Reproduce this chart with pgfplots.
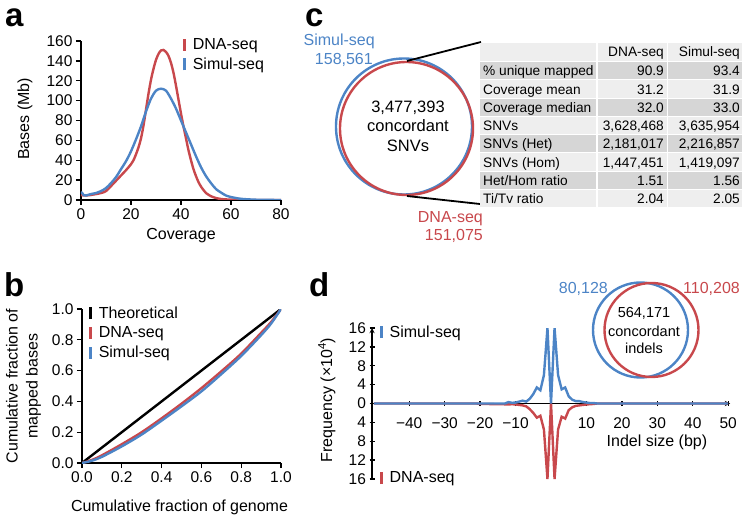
\documentclass[border=0pt]{standalone}
\usepackage{fontspec}
\setmainfont{Liberation Sans}
\usepackage{pgfplots}
\pgfplotsset{compat=1.18}
\definecolor{cred}{RGB}{200,72,76}
\definecolor{cblue}{RGB}{76,132,198}
\definecolor{tdark}{RGB}{214,214,214}
\definecolor{tlight}{RGB}{238,238,238}
\newcommand\ft{\fontsize{15.5}{18}\selectfont}
\newcommand\fl{\fontsize{16}{20}\selectfont}
\newcommand\fp{\fontsize{33}{33}\selectfont\bfseries}
\pgfplotsset{
  panel/.style={
    scale only axis, axis lines=left,
    axis line style={-, line width=1.3pt, black},
    tick align=outside, major tick length=5pt,
    tick style={line width=1.3pt, black},
    /pgf/number format/assume math mode=true,
    tick label style={font=\ft},
    label style={font=\fl},
    legend style={draw=none, fill=none, font=\fl, inner sep=0pt, row sep=3pt,
      anchor=north west, /tikz/every odd column/.append style={column sep=5pt}},
    legend cell align=left,
    legend image code/.code={\draw[##1, line width=2.6pt, line cap=butt] (0pt,-6pt) -- (0pt,6pt);},
    every axis plot/.append style={line width=2.4pt},
  }
}
\begin{document}
\begin{tikzpicture}[x=1pt,y=1pt]
\useasboundingbox (0,0) rectangle (750,-521);

% ---------------- panel a ----------------
\begin{axis}[panel, at={(81pt,-200pt)}, anchor=south west,
  width=200pt, height=159pt, xmin=0, xmax=80, ymin=0, ymax=160,
  xtick={0,20,...,80}, ytick={0,20,...,160},
  xlabel={Coverage}, ylabel={Bases (Mb)},
  xlabel style={at={(axis description cs:0.5,-0.226)}, anchor=center},
  ylabel style={at={(axis description cs:-0.28,0.51)}, anchor=center},
  legend style={at={(rel axis cs:0.51,1.03)}}]
\addplot[cred, smooth] coordinates {
(0,5) (2,4.5) (5,5.5) (8,7) (10,9) (12,14) (15,22) (18,30) (20,36) (21,40)
(22,46) (23,53) (24,62) (25,75) (26,91) (27,107) (28,121) (29,132) (30,141)
(31,147) (32,150.5) (33,151) (34,149) (35,145) (36,138) (37,128) (38,115)
(39,101) (40,87) (41,74) (42,62) (43,50) (44,40) (45,31) (46,24) (47,18)
(48,13.5) (49,10) (50,7) (52,3.8) (54,2) (56,1) (58,0.6) (62,0.2) (70,0) (80,0)};
\addlegendentry{DNA-seq}
\addplot[cblue, smooth] coordinates {
(0,8) (0.5,7) (1,5) (2,4.5) (4,6) (6,7) (8,9) (10,12) (12,17) (14,23) (16,31)
(18,39) (20,49) (22,61) (24,74) (26,89) (28,102) (30,110) (32,112) (34,110)
(36,102) (38,92) (40,80) (42,68) (44,56) (46,44) (48,33) (50,24) (52,17)
(54,11) (56,7.5) (58,4.5) (60,3) (63,1.5) (66,0.8) (70,0.3) (75,0.1) (80,0)};
\addlegendentry{Simul-seq}
\end{axis}

% ---------------- panel b ----------------
\begin{axis}[panel, at={(82pt,-463pt)}, anchor=south west,
  width=199pt, height=154pt, xmin=0, xmax=1, ymin=0, ymax=1,
  xtick={0,0.2,...,1}, ytick={0,0.2,...,1},
  xticklabel style={/pgf/number format/.cd, fixed, fixed zerofill, precision=1},
  yticklabel style={/pgf/number format/.cd, fixed, fixed zerofill, precision=1},
  xlabel={Cumulative fraction of genome},
  ylabel={Cumulative fraction of\\mapped bases},
  xlabel style={at={(axis description cs:0.49,-0.286)}, anchor=center},
  ylabel style={at={(axis description cs:-0.294,0.5)}, anchor=center, align=center},
  legend style={at={(rel axis cs:0.035,1.03)}}]
\addplot[black] coordinates {(0,0) (1,1)};
\addlegendentry{Theoretical}
\addplot[cred, smooth] coordinates {
(0,0) (0.05,0.02) (0.1,0.05) (0.2,0.122) (0.3,0.2) (0.4,0.29) (0.5,0.385)
(0.6,0.486) (0.7,0.595) (0.8,0.71) (0.9,0.845) (0.95,0.915) (1,1)};
\addlegendentry{DNA-seq}
\addplot[cblue, smooth] coordinates {
(0,0) (0.05,0.015) (0.1,0.04) (0.2,0.108) (0.3,0.185) (0.4,0.275) (0.5,0.368)
(0.6,0.465) (0.7,0.577) (0.8,0.695) (0.9,0.83) (0.95,0.905) (1,1)};
\addlegendentry{Simul-seq}
\end{axis}

% ---------------- panel d ----------------
\begin{axis}[panel, at={(372pt,-479pt)}, anchor=south west,
  width=358pt, height=151pt, xmin=-50.5, xmax=50.5, ymin=-16, ymax=16,
  axis x line=middle, axis y line=left,
  xtick={-40,-30,-20,-10,10,20,30,40,50},
  xticklabels={−40,−30,−20,−10,10,20,30,40,50},
  xticklabel style={yshift=-8pt},
  ytick={-16,-12,...,16}, yticklabels={16,12,8,4,0,4,8,12,16},
  xlabel={Indel size (bp)}, ylabel={Frequency (×10\textsuperscript{4})},
  xlabel style={at={(axis description cs:0.796,0.245)}, anchor=center, font=\fl},
  ylabel style={at={(axis description cs:-0.126,0.523)}, anchor=center, font=\fl},
  legend style={at={(rel axis cs:0.022,1.03)}, row sep=129pt}]
\addlegendimage{cblue}
\addlegendentry{Simul-seq}
\addlegendimage{cred}
\addlegendentry{DNA-seq}
\addplot[cred, forget plot] coordinates {
(-50,0) (-21,0) (-20,-0.1) (-18,-0.1) (-16,-0.15) (-14,-0.15) (-12,-0.2)
(-11,-0.15) (-10,-0.2) (-9,-0.3) (-8,-0.4) (-7,-0.6) (-6,-1.2) (-5,-2.0)
(-4,-3.0) (-3,-2.6) (-2,-5.5) (-1,-16) (0,0) (1,-16) (2,-5.5) (3,-2.8)
(4,-3.2) (5,-1.4) (6,-0.8) (7,-0.5) (8,-0.4) (9,-0.3) (10,-0.2) (11,-0.15)
(12,-0.1) (13,0) (50,0)};
\addplot[cblue, forget plot] coordinates {
(-50,0) (-13,0) (-12,0.3) (-11,0.15) (-10,0.2) (-9,0.4) (-8,0.6) (-7,0.4)
(-6,1.0) (-5,2.0) (-4,3.4) (-3,2.8) (-2,6) (-1,16) (0,0) (1,16) (2,6)
(3,3) (4,3.4) (5,1.5) (6,0.8) (7,0.5) (8,0.5) (9,0.3) (10,0.2) (11,0.1)
(12,0.1) (13,0) (50,0)};
\end{axis}

% ---------------- panel labels ----------------
\node[font=\fp, anchor=base west, inner sep=0] at (5,-27) {a};
\node[font=\fp, anchor=base west, inner sep=0] at (4,-297) {b};
\node[font=\fp, anchor=base west, inner sep=0] at (305,-27) {c};
\node[font=\fp, anchor=base west, inner sep=0] at (309,-297) {d};

% ---------------- panel c : Venn ----------------
\draw[cblue, line width=2.4pt] (404,-126.5) circle (68);
\draw[cred, line width=2.4pt] (406.5,-128.5) circle (66.5);
\draw[black, line width=1.8pt] (407,-61) -- (481,-42);
\draw[black, line width=1.8pt] (407,-196) -- (480,-204);
\node[font=\fontsize{16.5}{20}\selectfont, anchor=base, inner sep=0] at (408,-113) {3,477,393};
\node[font=\fontsize{16.5}{20}\selectfont, anchor=base, inner sep=0] at (408,-132) {concordant};
\node[font=\fontsize{16.5}{20}\selectfont, anchor=base, inner sep=0] at (408,-152) {SNVs};
\node[font=\fl, text=cblue, anchor=base east, inner sep=0] at (375,-45.5) {Simul-seq};
\node[font=\fl, text=cblue, anchor=base east, inner sep=0] at (373,-64.5) {158,561};
\node[font=\fl, text=cred, anchor=base east, inner sep=0] at (483,-222.5) {DNA-seq};
\node[font=\fl, text=cred, anchor=base east, inner sep=0] at (483,-240.5) {151,075};

% table
\fill[tlight] (480,-43) rectangle (596,-61.2);
\fill[tlight] (597.5,-43) rectangle (666.5,-61.2);
\fill[tlight] (668,-43) rectangle (742,-61.2);
\foreach \k in {1,...,8}{
  \pgfmathsetmacro{\yt}{62+18.3*(\k-1)}
  \pgfmathsetmacro{\yb}{\yt+17.3}
  \pgfmathparse{mod(\k,2)==1 ? "tdark" : "tlight"}
  \edef\cc{\pgfmathresult}
  \fill[\cc] (480,-\yt) rectangle (596,-\yb);
  \fill[\cc] (597.5,-\yt) rectangle (666.5,-\yb);
  \fill[\cc] (668,-\yt) rectangle (742,-\yb);
}
\begin{scope}[every node/.style={font=\fontsize{13.7}{16}\selectfont, inner sep=0}]
\node[anchor=base east] at (664,-57) {DNA-seq};
\node[anchor=base east] at (740,-57) {Simul-seq};
\node[anchor=base west] at (483,-75.8) {\% unique mapped};
\node[anchor=base east] at (664,-75.8) {90.9};
\node[anchor=base east] at (740,-75.8) {93.4};
\node[anchor=base west] at (483,-94.1) {Coverage mean};
\node[anchor=base east] at (664,-94.1) {31.2};
\node[anchor=base east] at (740,-94.1) {31.9};
\node[anchor=base west] at (483,-112.4) {Coverage median};
\node[anchor=base east] at (664,-112.4) {32.0};
\node[anchor=base east] at (740,-112.4) {33.0};
\node[anchor=base west] at (483,-130.7) {SNVs};
\node[anchor=base east] at (664,-130.7) {3,628,468};
\node[anchor=base east] at (740,-130.7) {3,635,954};
\node[anchor=base west] at (483,-149) {SNVs (Het)};
\node[anchor=base east] at (664,-149) {2,181,017};
\node[anchor=base east] at (740,-149) {2,216,857};
\node[anchor=base west] at (483,-167.3) {SNVs (Hom)};
\node[anchor=base east] at (664,-167.3) {1,447,451};
\node[anchor=base east] at (740,-167.3) {1,419,097};
\node[anchor=base west] at (483,-185.6) {Het/Hom ratio};
\node[anchor=base east] at (664,-185.6) {1.51};
\node[anchor=base east] at (740,-185.6) {1.56};
\node[anchor=base west] at (483,-203.9) {Ti/Tv ratio};
\node[anchor=base east] at (664,-203.9) {2.04};
\node[anchor=base east] at (740,-203.9) {2.05};
\end{scope}

% ---------------- panel d : Venn ----------------
\draw[cblue, line width=2.4pt] (640.5,-330) circle (47.5);
\draw[cred, line width=2.4pt] (651.5,-330) circle (47);
\begin{scope}[every node/.style={font=\fontsize{14.5}{17}\selectfont, inner sep=0, anchor=base}]
\node at (644,-318) {564,171};
\node at (644,-337) {concordant};
\node at (644,-354) {indels};
\end{scope}
\node[font=\fl, text=cblue, anchor=base east, inner sep=0] at (608,-294) {80,128};
\node[font=\fl, text=cred, anchor=base west, inner sep=0] at (683,-294) {110,208};
\end{tikzpicture}
\end{document}
